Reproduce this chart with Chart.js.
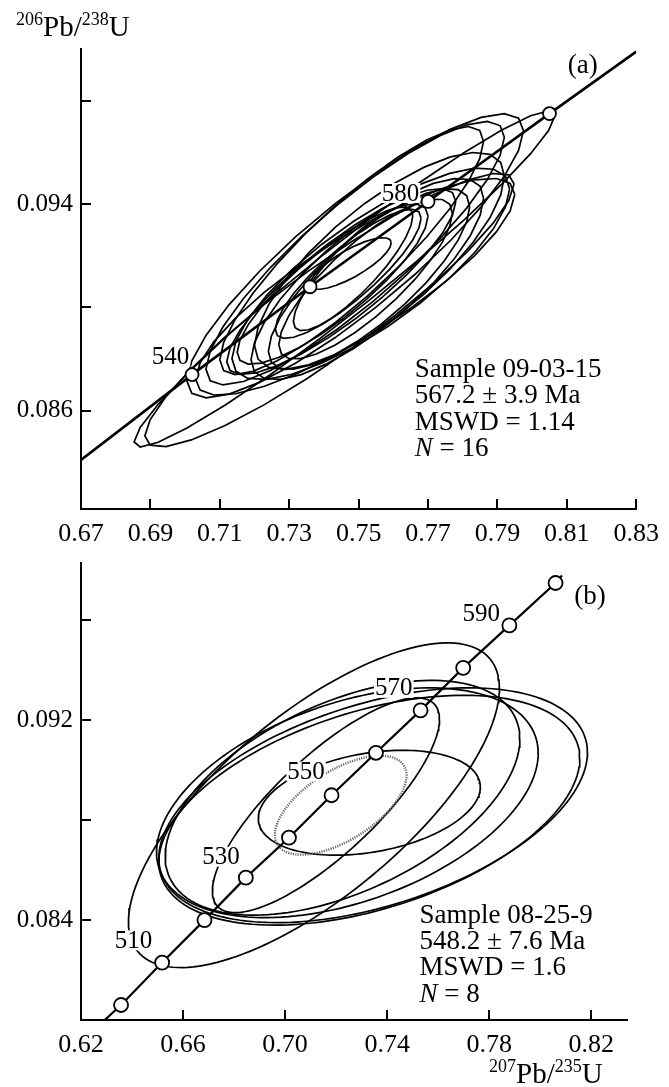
<!DOCTYPE html>
<html><head><meta charset="utf-8">
<script src="https://cdn.jsdelivr.net/npm/chart.js@4.4.0/dist/chart.umd.min.js"></script>
<style>
html,body{margin:0;padding:0;background:#fff;width:669px;height:1087px;overflow:hidden;}
#cA{position:absolute;left:0;top:0;}
#cB{position:absolute;left:0;top:540px;}
</style></head><body>
<canvas id="cA" width="669" height="556"></canvas>
<canvas id="cB" width="669" height="547"></canvas>
<script>
// ---------- Panel (a) data ----------
const xTicksA = [0.67,0.69,0.71,0.73,0.75,0.77,0.79,0.81,0.83];
const yTicksA = [0.086,0.090,0.094,0.098];
const yLabeledA = [0.086,0.094];
const concLineXA = [0.670,0.702,0.736,0.770,0.805,0.830];
const concLineYA = [0.0841,0.0874,0.0908,0.0941,0.0975,0.0999];
const concAgeA = [540,560,580,600];
const concXA = [0.702,0.736,0.770,0.805];
const concYA = [0.0874,0.0908,0.0941,0.0975];
const ageLabelA = ['540','580'];
const ageLabelXA = [0.6958,0.7621];
const ageLabelYA = [0.08809,0.09443];
// error ellipses: centre, half extents, correlation
const ellCxA = [0.7459,0.7416,0.7490,0.7490,0.7480,0.7490,0.7535,0.7560,0.7525,0.7530,0.7520,0.7484,0.7477,0.7450,0.7425,0.7470];
const ellCyA = [0.0911,0.0899,0.0920,0.0921,0.0922,0.0908,0.0913,0.0918,0.0911,0.0911,0.0911,0.0915,0.0917,0.0910,0.0909,0.0913];
const ellSxA = [0.0606,0.0532,0.0485,0.0430,0.0380,0.0460,0.0400,0.0360,0.0335,0.0290,0.0250,0.0172,0.0117,0.0330,0.0275,0.0210];
const ellSyA = [0.0065,0.0053,0.0055,0.0051,0.0048,0.0042,0.0041,0.0042,0.0039,0.0035,0.0031,0.0024,0.0010,0.0036,0.0031,0.0025];
const ellRhoA = [0.97,0.92,0.88,0.88,0.88,0.85,0.80,0.78,0.80,0.80,0.82,0.85,0.80,0.86,0.85,0.86];
const infoA = ['Sample 09-03-15','567.2 \u00b1 3.9 Ma','MSWD = 1.14','N = 16'];

// ---------- Panel (b) data ----------
const xTicksB = [0.62,0.66,0.70,0.74,0.78,0.82];
const yTicksB = [0.084,0.088,0.092,0.096];
const yLabeledB = [0.084,0.092];
const concLineXB = [0.6293,0.6357,0.6518,0.6684,0.6846,0.7015,0.7182,0.7356,0.7531,0.7698,0.7879,0.8060,0.8085];
const concLineYB = [0.0800,0.0806,0.0823,0.0840,0.0857,0.0873,0.0890,0.0907,0.0924,0.0941,0.0958,0.0975,0.0978];
const concAgeB = [500,510,520,530,540,550,560,570,580,590,600];
const concXB = [0.6357,0.6518,0.6684,0.6846,0.7015,0.7182,0.7356,0.7531,0.7698,0.7879,0.8060];
const concYB = [0.0806,0.0823,0.0840,0.0857,0.0873,0.0890,0.0907,0.0924,0.0941,0.0958,0.0975];
const ageLabelB = ['510','530','550','570','590'];
const ageLabelXB = [0.6406,0.6749,0.7082,0.7426,0.7769];
const ageLabelYB = [0.08319,0.08654,0.08995,0.0933,0.0963];
const ellCxB = [0.7218,0.7330,0.7113,0.7345,0.7330,0.7244,0.7225,0.7160];
const ellCyB = [0.0886,0.0887,0.0886,0.0886,0.0884,0.0887,0.0889,0.0886];
const ellSxB = [0.0258,0.0435,0.0727,0.0840,0.0825,0.0748,0.0695,0.0445];
const ellSyB = [0.00198,0.0021,0.0065,0.0047,0.0046,0.0046,0.0047,0.0043];
const ellRhoB = [0.60,0.30,0.72,0.45,0.45,0.43,0.50,0.80];
const ellDottedB = [true,false,false,false,false,false,false,false];
const infoB = ['Sample 08-25-9','548.2 \u00b1 7.6 Ma','MSWD = 1.6','N = 8'];

const FONT = "'Liberation Serif','Times New Roman',serif";

function ellipse(cx, cy, sx, sy, rho, n){
  const pts = []; const k = Math.sqrt(1 - rho*rho);
  for (let i = 0; i <= n; i++){
    const t = 2*Math.PI*i/n;
    pts.push({x: cx + sx*Math.cos(t), y: cy + sy*(rho*Math.cos(t) + k*Math.sin(t))});
  }
  return pts;
}
function zip(xs, ys){ return xs.map((x,i)=>({x:x, y:ys[i]})); }

function buildDatasets(p){
  const ds = [];
  ds.push({data: zip(p.cx, p.cy), showLine:false, pointRadius:p.r, pointBackgroundColor:'#fff',
           pointBorderColor:'#000', pointBorderWidth:1.8, order:0});
  ds.push({data: zip(p.lx, p.ly), showLine:true, pointRadius:0, borderColor:'#000', borderWidth:p.lw, order:1});
  for (let i = 0; i < p.ex.length; i++){
    const dotted = p.dotted && p.dotted[i];
    ds.push({data: ellipse(p.ex[i], p.ey[i], p.esx[i], p.esy[i], p.erho[i], p.n),
      showLine:true, pointRadius:0, borderColor: dotted ? '#666' : '#000',
      borderWidth: dotted ? 2.4 : 1.7, borderDash: dotted ? [1.2,1.2] : [], order:2});
  }
  return ds;
}

const deco = {
  id:'deco',
  afterDatasetsDraw(chart){
    const o = chart.options.plugins.deco; const ctx = chart.ctx;
    const xs = chart.scales.x, ys = chart.scales.y;
    ctx.save();
    ctx.font = '25px ' + FONT; ctx.textAlign='center'; ctx.textBaseline='middle';
    o.labels.forEach((t,i)=>{
      const px = xs.getPixelForValue(o.lx[i]), py = ys.getPixelForValue(o.ly[i]);
      const w = ctx.measureText(t).width;
      ctx.fillStyle='#fff'; ctx.fillRect(px - w/2 - 1, py - 10, w + 2, 20);
      ctx.fillStyle='#000'; ctx.fillText(t, px, py + 1);
    });
    ctx.restore();
  },
  afterDraw(chart){
    const o = chart.options.plugins.deco; const ctx = chart.ctx; const ca = chart.chartArea;
    const xs = chart.scales.x, ys = chart.scales.y;
    ctx.save();
    // inward tick marks
    ctx.strokeStyle='#000'; ctx.lineWidth=2;
    xs.ticks.forEach(t=>{ const p = Math.round(xs.getPixelForValue(t.value)); ctx.beginPath(); ctx.moveTo(p, ca.bottom); ctx.lineTo(p, ca.bottom - 10); ctx.stroke(); });
    ys.ticks.forEach(t=>{ const p = Math.round(ys.getPixelForValue(t.value)); ctx.beginPath(); ctx.moveTo(ca.left, p); ctx.lineTo(ca.left + 10, p); ctx.stroke(); });
    // sample info
    ctx.fillStyle='#000'; ctx.textBaseline='middle'; ctx.textAlign='left';
    const ix = xs.getPixelForValue(o.infoX), iy = ys.getPixelForValue(o.infoY);
    o.info.forEach((line,i)=>{
      const y = iy + i*26.3;
      if (line.startsWith('N ')){
        ctx.font = 'italic 27px ' + FONT; ctx.fillText('N', ix, y);
        const w = ctx.measureText('N').width;
        ctx.font = '27px ' + FONT; ctx.fillText(line.slice(1), ix + w, y);
      } else { ctx.font = '27px ' + FONT; ctx.fillText(line, ix, y); }
    });
    // panel tag
    ctx.font = '27px ' + FONT; ctx.textAlign='center';
    ctx.fillText(o.tag, xs.getPixelForValue(o.tagX), ys.getPixelForValue(o.tagY));
    // axis title
    if (o.title){
      let x = o.title.x; const b = o.title.y; ctx.textAlign='left'; ctx.textBaseline='alphabetic';
      o.title.parts.forEach(p=>{
        ctx.font = (p.sup ? '18px ' : '29px ') + FONT;
        ctx.fillText(p.t, x, p.sup ? b - 11 : b);
        x += ctx.measureText(p.t).width;
      });
    }
    ctx.restore();
  }
};

function makeOptions(c){
  return {
    responsive:false, animation:false, devicePixelRatio:1,
    layout:{padding:{left:0, right:c.padR, top:c.padT, bottom:0}},
    plugins:{legend:{display:false}, tooltip:{enabled:false}, deco:c.deco},
    scales:{
      x:{type:'linear', min:c.xmin, max:c.xmax,
        afterBuildTicks:s=>{ s.ticks = c.xTicks.map(v=>({value:v})); },
        afterFit:s=>{ s.height = c.xH; },
        grid:{display:false, drawTicks:false},
        border:{display:true, color:'#000', width:2},
        ticks:{color:'#000', font:{family:FONT, size:26}, padding:c.xPad, maxRotation:0, autoSkip:false,
          callback:v=>Number(v).toFixed(2)}},
      y:{type:'linear', min:c.ymin, max:c.ymax,
        afterBuildTicks:s=>{ s.ticks = c.yTicks.map(v=>({value:v})); },
        afterFit:s=>{ s.width = 81; },
        grid:{display:false, drawTicks:false},
        border:{display:true, color:'#000', width:2},
        ticks:{color:'#000', font:{family:FONT, size:25}, padding:8, autoSkip:false,
          callback:v=> c.yLab.some(l=>Math.abs(l-v)<1e-9) ? Number(v).toFixed(3) : ''}}
    }
  };
}

new Chart(document.getElementById('cA'), {
  type:'scatter',
  data:{datasets: buildDatasets({cx:concXA, cy:concYA, lx:concLineXA, ly:concLineYA,
    ex:ellCxA, ey:ellCyA, esx:ellSxA, esy:ellSyA, erho:ellRhoA, n:26, r:6.5, lw:2.6})},
  options: makeOptions({padR:27, padT:49, xmin:0.67, xmax:0.83, ymin:0.0822, ymax:0.100, xH:47, xPad:10,
    xTicks:xTicksA, yTicks:yTicksA, yLab:yLabeledA,
    deco:{labels:ageLabelA, lx:ageLabelXA, ly:ageLabelYA, info:infoA, infoX:0.7662, infoY:0.08758,
      tag:'(a)', tagX:0.8146, tagY:0.09933,
      title:{x:16, y:36, parts:[{t:'206',sup:true},{t:'Pb/'},{t:'238',sup:true},{t:'U'}]}}}),
  plugins:[deco]
});

new Chart(document.getElementById('cB'), {
  type:'scatter',
  data:{datasets: buildDatasets({cx:concXB, cy:concYB, lx:concLineXB, ly:concLineYB,
    ex:ellCxB, ey:ellCyB, esx:ellSxB, esy:ellSyB, erho:ellRhoB, dotted:ellDottedB, n:160, r:7, lw:2.2})},
  options: makeOptions({padR:42, padT:19, xmin:0.62, xmax:0.834, ymin:0.080, ymax:0.0983, xH:67, xPad:10,
    xTicks:xTicksB, yTicks:yTicksB, yLab:yLabeledB,
    deco:{labels:ageLabelB, lx:ageLabelXB, ly:ageLabelYB, info:infoB, infoX:0.7527, infoY:0.08418,
      tag:'(b)', tagX:0.8195, tagY:0.09694,
      title:{x:489, y:543, parts:[{t:'207',sup:true},{t:'Pb/'},{t:'235',sup:true},{t:'U'}]}}}),
  plugins:[deco]
});
</script>
</body></html>
